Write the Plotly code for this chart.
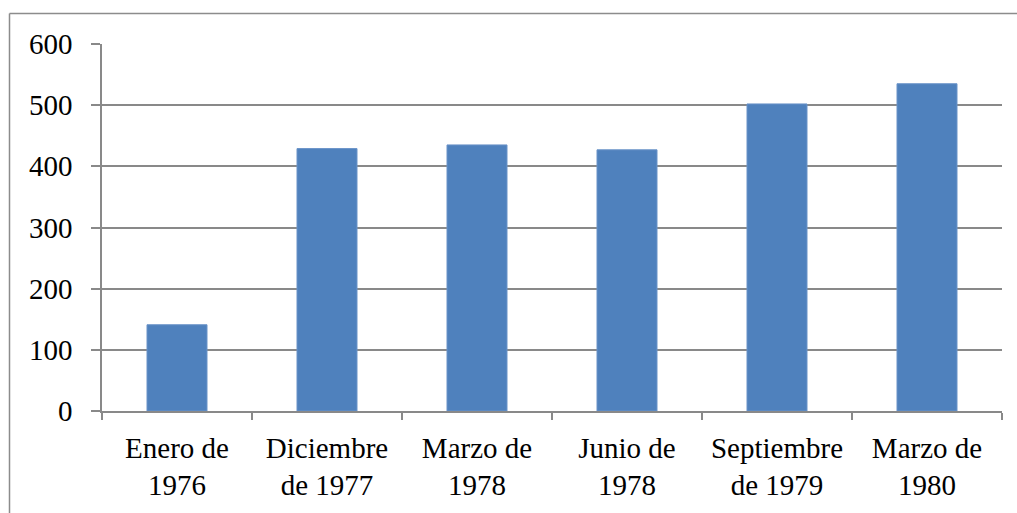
import plotly.graph_objects as go

categories = ["Enero de<br>1976", "Diciembre<br>de 1977", "Marzo de<br>1978",
              "Junio de<br>1978", "Septiembre<br>de 1979", "Marzo de<br>1980"]
values = [141, 429, 435, 427, 502, 535]
y_ticks = [0, 100, 200, 300, 400, 500, 600]

W, H = 1017, 513
L, R, T, B = 102, 15, 44, 102
pw = W - L - R
ph = H - T - B

fig = go.Figure(go.Bar(
    x=categories, y=values,
    marker=dict(color="#4F81BD", line=dict(color="#6A93C8", width=1)),
    width=0.4,
))

grid = "#898989"
font = dict(family="Liberation Serif, Times New Roman, serif", size=29, color="black")

fig.update_layout(
    width=W, height=H,
    margin=dict(l=L, r=R, t=T, b=B),
    paper_bgcolor="white", plot_bgcolor="white",
    showlegend=False,
    font=font,
    xaxis=dict(
        showgrid=False, showline=True, linecolor=grid, linewidth=1.5,
        ticks="outside", ticklen=7, tickcolor=grid, tickwidth=1.5,
        tickson="boundaries", tickfont=font, ticklabelstandoff=10,
    ),
    yaxis=dict(
        range=[0, 600], tickvals=y_ticks, showgrid=True, gridcolor=grid, gridwidth=1.5,
        showline=True, linecolor=grid, linewidth=1.5, zeroline=False,
        ticks="outside", ticklen=9, tickcolor=grid, tickwidth=1.5,
        tickfont=font, ticklabelstandoff=13,
    ),
    shapes=[
        dict(type="line", xref="paper", yref="paper",
             x0=(9.5 - L) / pw, x1=(W - L) / pw,
             y0=(H - B - 13.5) / ph, y1=(H - B - 13.5) / ph,
             line=dict(color="#8c8c8c", width=1.5)),
        dict(type="line", xref="paper", yref="paper",
             x0=(9.5 - L) / pw, x1=(9.5 - L) / pw,
             y0=(H - B - 13.5) / ph, y1=-B / ph,
             line=dict(color="#8c8c8c", width=1.5)),
    ],
)

fig.write_html("out.html", config={"displayModeBar": False},
               post_script="document.body.style.margin='0';document.body.style.overflow='hidden';")
